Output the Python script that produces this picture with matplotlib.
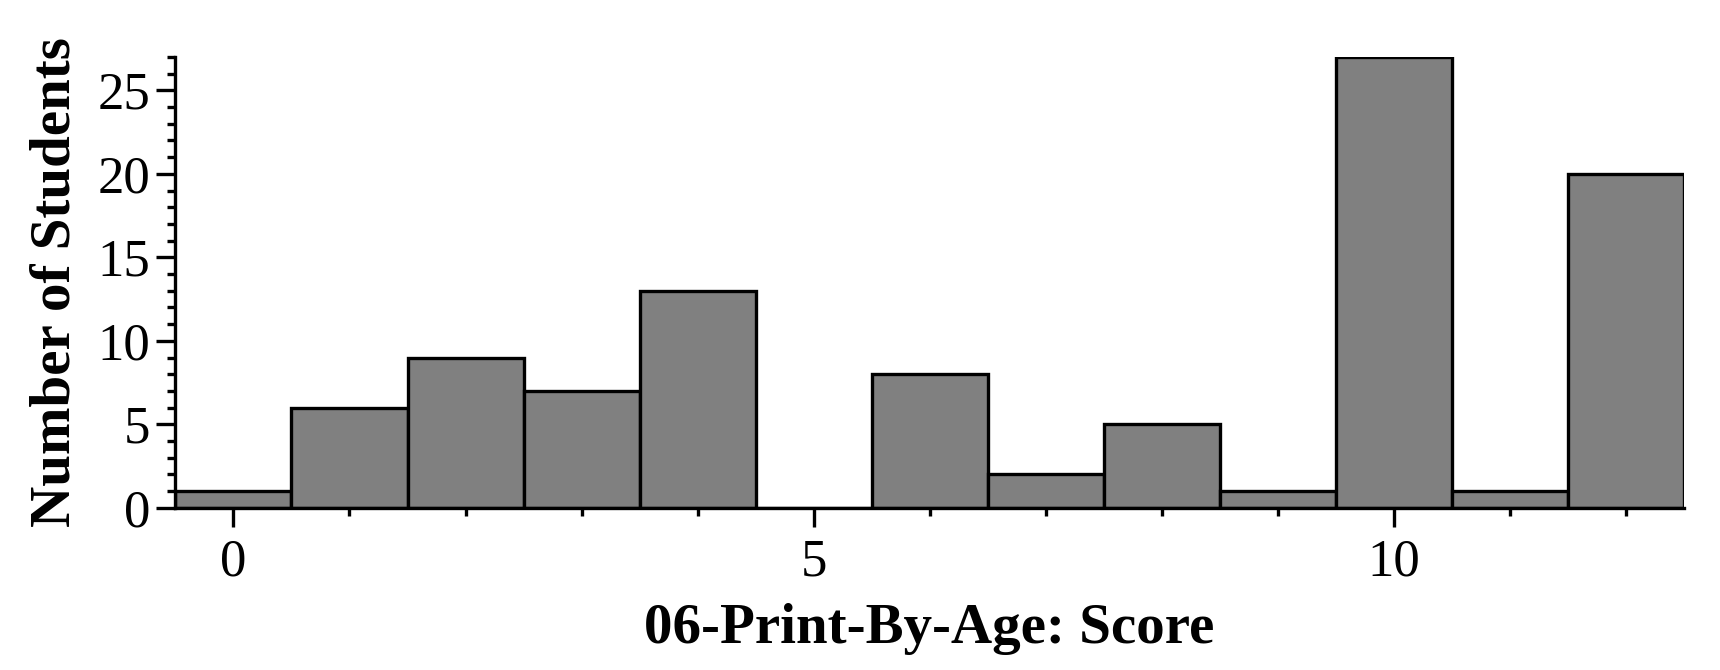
import matplotlib
matplotlib.use('Agg')
import matplotlib.pyplot as plt
from matplotlib.ticker import MultipleLocator

# score -> number of students
scores = [0, 1, 2, 3, 4, 5, 6, 7, 8, 9, 10, 11, 12]
counts = [1, 6, 9, 7, 13, 0, 8, 2, 5, 1, 27, 1, 20]

plt.rcParams['font.family'] = ['Liberation Serif', 'DejaVu Serif']

fig = plt.figure(figsize=(17.2, 6.7), dpi=100)
ax = fig.add_axes([0.102, 0.242, 0.877, 0.673])

ax.bar(scores, counts, width=1.0, color='#808080', edgecolor='black', linewidth=2.4)

ax.set_xlim(-0.5, 12.5)
ax.set_ylim(0, 27)

ax.xaxis.set_major_locator(MultipleLocator(5))
ax.xaxis.set_minor_locator(MultipleLocator(1))
ax.yaxis.set_major_locator(MultipleLocator(5))
ax.yaxis.set_minor_locator(MultipleLocator(1))

for s in ['top', 'right']:
    ax.spines[s].set_visible(False)
for s in ['left', 'bottom']:
    ax.spines[s].set_linewidth(2.4)

ax.tick_params(which='major', direction='out', length=14, width=2.4, labelsize=38, pad=4)
ax.tick_params(axis='x', which='major', pad=8)
ax.tick_params(which='minor', direction='out', length=6, width=2.4)

ax.set_xlabel('06-Print-By-Age: Score', fontsize=41, fontweight='bold', labelpad=12)
ax.set_ylabel('Number of Students', fontsize=41, fontweight='bold', labelpad=12)

fig.savefig('out.png', dpi=100)
